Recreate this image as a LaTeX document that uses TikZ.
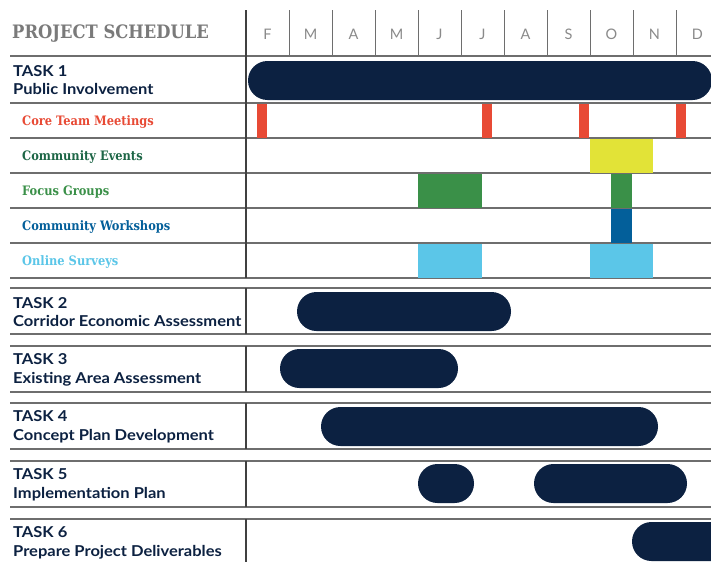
\documentclass[tikz,border=0pt]{standalone}
\usepackage{fontspec}
\usepackage[HTML]{xcolor}
\usepackage{tikz}
\usetikzlibrary{positioning}
\newfontfamily\slabfont[FakeStretch=0.88]{DejaVu Serif}
\newfontfamily\titlefont[FakeStretch=0.885]{DejaVu Serif}
\newfontfamily\taskfont[FakeStretch=1.1]{Lato}
\newfontfamily\monthfont{Lato}
\definecolor{navy}{HTML}{0C2141}
\definecolor{headgray}{HTML}{7A7A7A}
\definecolor{monthgray}{HTML}{8A8A8A}
\definecolor{gridgray}{HTML}{6E6E6E}
\definecolor{meetred}{HTML}{E84A35}
\definecolor{eventgreen}{HTML}{1D6646}
\definecolor{eventyellow}{HTML}{E2E337}
\definecolor{focusgreen}{HTML}{3A9048}
\definecolor{workblue}{HTML}{035F9A}
\definecolor{surveyblue}{HTML}{5BC6E8}

\tikzset{
  rule/.style={draw=gridgray, line width=1.1pt},
  sepline/.style={draw=black!75, line width=1.4pt},
  tasklabel/.style={anchor=west, align=left, inner sep=0pt, text=navy,
    font=\taskfont\bfseries\fontsize{15}{18.5}\selectfont},
  sublabel/.style={anchor=west, inner sep=0pt,
    font=\slabfont\bfseries\fontsize{13}{15}\selectfont},
  monthlabel/.style={inner sep=0pt, text=monthgray,
    font=\monthfont\fontsize{14.5}{16}\selectfont},
  taskbar/.style={fill=navy, rounded corners=19.5pt}
}

\begin{document}
\begin{tikzpicture}[x=1pt,y=-1pt]
\useasboundingbox (0,0) rectangle (711,562);
\fill[white] (0,0) rectangle (711,562);

% header
\node[anchor=west, inner sep=0pt, text=headgray, font=\titlefont\bfseries\fontsize{18.5}{20}\selectfont] (title) at (12,34) {PROJECT SCHEDULE};
\foreach \m [count=\i from 0] in {F,M,A,M,J,J,A,S,O,N,D}
  \node[monthlabel] (month\i) at (267.5+43*\i,34) {\m};
\foreach \x in {289,332,375,418,461,504,547,590,633,676}
  \draw[rule, line width=0.9pt] (\x,10) -- (\x,56);
\draw[rule] (10,56) -- (711,56);

% task 1 grid
\draw[rule] (10,103) -- (711,103);
\draw[rule] (10,138) -- (711,138);
\draw[rule] (10,173) -- (711,173);
\draw[rule] (10,208) -- (711,208);
\draw[rule] (10,243) -- (711,243);
\draw[rule] (10,278) -- (711,278);
\draw[sepline] (246,10) -- (246,278);

% tasks 2 to 6 grid
\draw[rule] (10,288) -- (711,288);
\draw[rule] (10,334) -- (711,334);
\draw[rule] (10,346) -- (711,346);
\draw[rule] (10,392) -- (711,392);
\draw[rule] (10,403) -- (711,403);
\draw[rule] (10,449) -- (711,449);
\draw[rule] (10,461) -- (711,461);
\draw[rule] (10,507) -- (711,507);
\draw[rule] (10,519) -- (711,519);
\draw[sepline] (246,288) -- (246,334);
\draw[sepline] (246,346) -- (246,392);
\draw[sepline] (246,403) -- (246,449);
\draw[sepline] (246,461) -- (246,507);
\draw[sepline] (246,519) -- (246,562);

% labels
\node[tasklabel] (task1) at (13,80) {TASK 1\\Public Involvement};
\node[sublabel, text=meetred] (meetings) at (22,122) {Core Team Meetings};
\node[sublabel, text=eventgreen] (events) at (22,157) {Community Events};
\node[sublabel, text=focusgreen] (focus) at (22,192) {Focus Groups};
\node[sublabel, text=workblue] (workshops) at (22,227) {Community Workshops};
\node[sublabel, text=surveyblue] (surveys) at (22,262) {Online Surveys};
\node[tasklabel] (task2) at (13,312) {TASK 2\\Corridor Economic Assessment};
\node[tasklabel] (task3) at (13,370) {TASK 3\\Existing Area Assessment};
\node[tasklabel] (task4) at (13,427) {TASK 4\\Concept Plan Development};
\node[tasklabel] (task5) at (13,485) {TASK 5\\Implementation Plan};
\node[tasklabel] (task6) at (13,543) {TASK 6\\Prepare Project Deliverables};

% bars
\fill[taskbar] (248,61) rectangle (712,100);
\fill[meetred] (257,103.5) rectangle (267,137.5);
\fill[meetred] (482,103.5) rectangle (492,137.5);
\fill[meetred] (579,103.5) rectangle (589,137.5);
\fill[meetred] (676,103.5) rectangle (686,137.5);
\fill[eventyellow] (590,138.5) rectangle (653,172.5);
\fill[focusgreen] (418,173.5) rectangle (482,207.5);
\fill[focusgreen] (611,173.5) rectangle (632,207.5);
\fill[workblue] (611,208.5) rectangle (632,242.5);
\fill[surveyblue] (418,243.5) rectangle (482,277.5);
\fill[surveyblue] (590,243.5) rectangle (653,277.5);
\fill[taskbar] (297,292) rectangle (511,331);
\fill[taskbar] (280,349) rectangle (458,388);
\fill[taskbar] (321,407) rectangle (658,446);
\fill[taskbar] (418,464) rectangle (474,503);
\fill[taskbar] (534,464) rectangle (687,503);
\fill[taskbar] (632,522) rectangle (740,561);
\end{tikzpicture}
\end{document}
